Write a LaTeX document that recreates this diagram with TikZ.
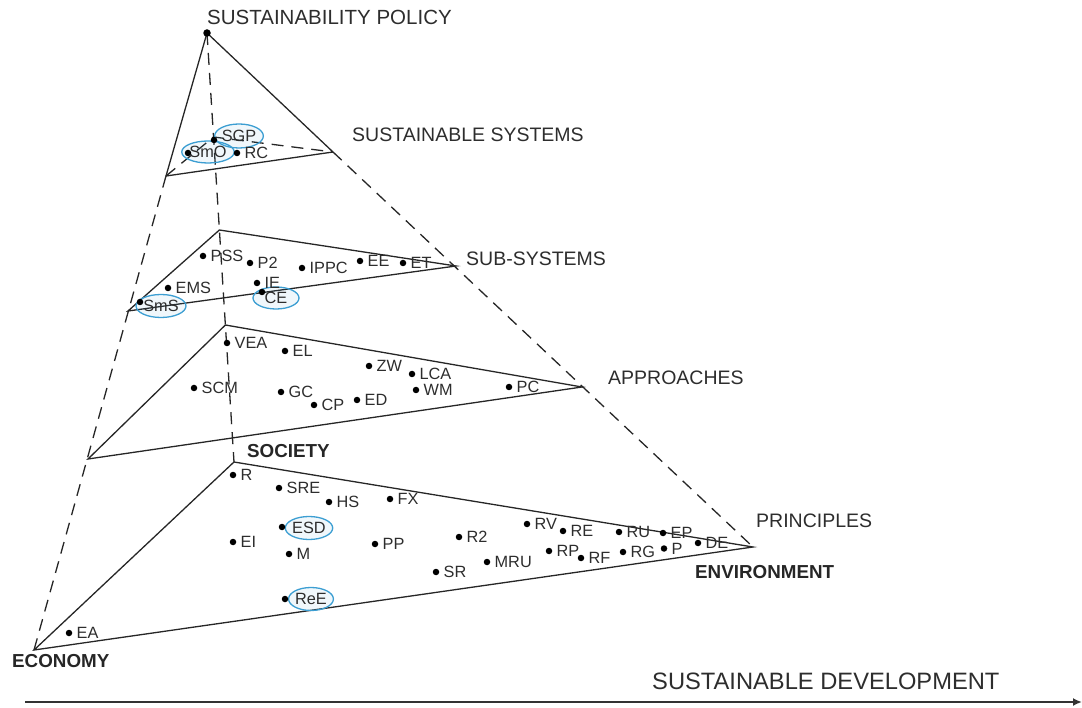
\documentclass[tikz,border=0pt]{standalone}
\usepackage{fontspec}
\setmainfont{Liberation Sans}
\usetikzlibrary{arrows.meta,shapes.geometric}
\definecolor{hlblue}{RGB}{60,158,210}
\definecolor{txt}{RGB}{45,45,45}
\newcommand\pnt[4]{\node[vdot,label={[lbl,label distance=4pt]right:#4}] (#1) at (#2,#3) {};}
\newcommand\hdot[3]{\node[vdot] (#1) at (#2,#3) {};}
\begin{document}
\begin{tikzpicture}[x=1pt,y=-1pt,
  edge/.style={line width=1.3pt, draw=black!85},
  dsh/.style={edge, dash pattern=on 12pt off 8pt},
  vdot/.style={circle, fill=black, inner sep=0pt, minimum size=6.5pt},
  lbl/.style={inner sep=0pt, text=txt, font=\fontsize{16.3}{16}\selectfont},
  big/.style={inner sep=0pt, anchor=west, text=txt, font=\fontsize{19.5}{20}\selectfont},
  boldlbl/.style={inner sep=0pt, anchor=west, text=black!85, font=\bfseries\fontsize{18.8}{19}\selectfont},
  hl/.style={ellipse, draw=hlblue, line width=1.3pt, fill=hlblue, fill opacity=0.08, text opacity=1, inner sep=0pt, text=txt, font=\fontsize{16.3}{16}\selectfont, minimum width=44pt, minimum height=23pt},
]
\useasboundingbox (0,0) rectangle (1082,708);

% vertices
\coordinate (A) at (207,33);
\coordinate (L1) at (166,176);
\coordinate (R1) at (333,152);
\coordinate (B1) at (213.5,137);
\coordinate (L2) at (128,311);
\coordinate (B2) at (219.4,230);
\coordinate (R2) at (456,266);
\coordinate (L3) at (88,459);
\coordinate (B3) at (225.4,325);
\coordinate (R3) at (582,387);
\coordinate (E) at (34,650);
\coordinate (S) at (234,462);
\coordinate (V) at (753,547);

% pyramid edges
\draw[edge] (A) -- (L1);
\draw[edge] (A) -- (R1);
\draw[dsh] (A) -- (S);
\draw[dsh] (L1) -- (E);
\draw[dsh] (R1) -- (V);

% layers
\draw[edge] (L1) -- (R1);
\draw[dsh] (L1) -- (B1) -- (R1);
\draw[edge] (L2) -- (B2) -- (R2) -- cycle;
\draw[edge] (L3) -- (B3) -- (R3) -- cycle;
\draw[edge] (E) -- (S) -- (V) -- cycle;

% apex dot
\node[vdot, minimum size=7.5pt] (apex) at (A) {};

% labels of levels
\node[big, font=\fontsize{20.5}{21}\selectfont] (tSP) at (207,17.5) {SUSTAINABILITY POLICY};
\node[big] (tSS) at (352,135) {SUSTAINABLE SYSTEMS};
\node[big] (tSub) at (466,259) {SUB-SYSTEMS};
\node[big] (tApp) at (608,378) {APPROACHES};
\node[big] (tPri) at (756,521) {PRINCIPLES};
\node[boldlbl] (tSoc) at (247,451) {SOCIETY};
\node[boldlbl] (tEnv) at (695,572) {ENVIRONMENT};
\node[boldlbl] (tEco) at (12,661) {ECONOMY};

% highlighted ellipses
\node[hl, minimum width=42pt, minimum height=22pt] (eSmO) at (208,152) {SmO};
\node[hl, minimum width=47pt, minimum height=24pt] (eSGP) at (239,136) {SGP};
\node[hl, minimum width=46pt, minimum height=23pt] (eSmS) at (161,306) {SmS};
\node[hl, minimum width=46pt, minimum height=22pt] (eCE) at (276,298) {CE};
\node[hl] (eESD) at (309,528) {ESD};
\node[hl] (eReE) at (311,599) {ReE};
\hdot{pSmO}{188}{153}
\hdot{pSGP}{214}{140}
\hdot{pSmS}{140}{302}
\hdot{pCE}{262}{292}
\hdot{pESD}{282}{527}
\hdot{pReE}{285}{599}

% sustainable systems
\pnt{pRC}{237}{153}{RC}

% sub-systems
\pnt{pPSS}{203}{256}{PSS}
\pnt{pP2}{250}{263}{P2}
\pnt{pIPPC}{302}{268}{IPPC}
\pnt{pEE}{360}{261}{EE}
\pnt{pET}{403}{263}{ET}
\pnt{pIE}{257}{283}{IE}
\pnt{pEMS}{168}{288}{EMS}

% approaches
\pnt{pVEA}{227}{343}{VEA}
\pnt{pEL}{285}{351}{EL}
\pnt{pZW}{369}{366}{ZW}
\pnt{pLCA}{412}{374}{LCA}
\pnt{pSCM}{194}{388}{SCM}
\pnt{pGC}{281}{392}{GC}
\pnt{pCP}{314}{405}{CP}
\pnt{pED}{357}{400}{ED}
\pnt{pWM}{416}{390}{WM}
\pnt{pPC}{509}{387}{PC}

% principles
\pnt{pR}{233}{475}{R}
\pnt{pSRE}{279}{488}{SRE}
\pnt{pHS}{329}{502}{HS}
\pnt{pFX}{390}{499}{FX}
\pnt{pEI}{233}{542}{EI}
\pnt{pM}{289}{554}{M}
\pnt{pPP}{375}{544}{PP}
\pnt{pSR}{436}{572}{SR}
\pnt{pEA}{69}{633}{EA}
\pnt{pR2}{459}{537}{R2}
\pnt{pRV}{527}{524}{RV}
\pnt{pRE}{563}{531}{RE}
\pnt{pRU}{619}{532}{RU}
\pnt{pEP}{663}{533}{EP}
\pnt{pMRU}{487}{562}{MRU}
\pnt{pRP}{549}{551}{RP}
\pnt{pRF}{581}{558}{RF}
\pnt{pRG}{623}{552}{RG}
\pnt{pP}{664}{548.5}{P}
\pnt{pDE}{698}{543}{DE}

% sustainable development axis
\coordinate (ax0) at (25,702);
\coordinate (ax1) at (1082,702);
\draw[line width=2pt, draw=black!80, -{Latex[length=9pt,width=8pt]}] (ax0) -- (ax1);
\node[big, font=\fontsize{23.7}{24}\selectfont] (tSD) at (652,681.5) {SUSTAINABLE DEVELOPMENT};
\end{tikzpicture}
\end{document}
